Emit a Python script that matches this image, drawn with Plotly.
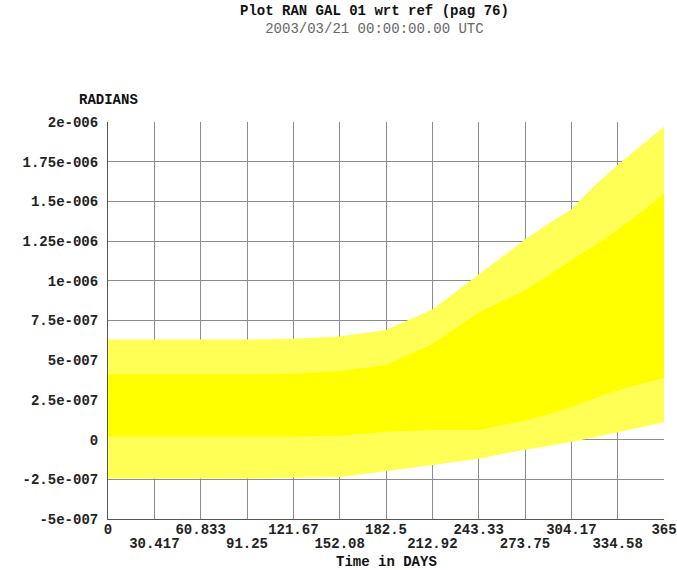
import plotly.graph_objects as go

# Time axis (days) at which the signal envelope is sampled
days = [0, 30.4, 60.8, 91.25, 121.7, 152.1, 182.5, 212.9, 243.3, 258.5,
        273.75, 289, 304.2, 319.4, 334.6, 349.8, 365]

# Outer envelope of the oscillation (spike tips), radians
upper_env = [6.3e-7, 6.3e-7, 6.3e-7, 6.3e-7, 6.35e-7, 6.5e-7, 6.9e-7, 8.2e-7,
             1.04e-6, 1.15e-6, 1.26e-6, 1.36e-6, 1.45e-6, 1.60e-6, 1.73e-6,
             1.85e-6, 1.97e-6]
lower_env = [-2.45e-7, -2.45e-7, -2.45e-7, -2.45e-7, -2.4e-7, -2.35e-7, -2.0e-7,
             -1.6e-7, -1.2e-7, -0.9e-7, -0.65e-7, -0.4e-7, -0.15e-7, 0.15e-7,
             0.48e-7, 0.8e-7, 1.1e-7]

# Dense core of the oscillation, radians
core_hi = [4.1e-7, 4.1e-7, 4.1e-7, 4.1e-7, 4.15e-7, 4.3e-7, 4.7e-7, 6.0e-7,
           8.0e-7, 8.7e-7, 9.4e-7, 1.03e-6, 1.13e-6, 1.22e-6, 1.32e-6,
           1.43e-6, 1.55e-6]
core_lo = [0.2e-7, 0.2e-7, 0.2e-7, 0.2e-7, 0.2e-7, 0.25e-7, 0.5e-7, 0.6e-7,
           0.6e-7, 0.9e-7, 1.2e-7, 1.6e-7, 2.05e-7, 2.6e-7, 3.1e-7, 3.5e-7,
           3.9e-7]

# x ticks: first row and (staggered) second row
x_tickvals_row1 = [0, 60.833, 121.67, 182.5, 243.33, 304.17, 365]
x_ticktext_row1 = ["0", "60.833", "121.67", "182.5", "243.33", "304.17", "365"]
x_tickvals_row2 = [30.417, 91.25, 152.08, 212.92, 273.75, 334.58]
x_ticktext_row2 = ["30.417", "91.25", "152.08", "212.92", "273.75", "334.58"]

y_tickvals = [-5e-7, -2.5e-7, 0, 2.5e-7, 5e-7, 7.5e-7, 1e-6, 1.25e-6,
              1.5e-6, 1.75e-6, 2e-6]
y_ticktext = ["-5e-007", "-2.5e-007", "0", "2.5e-007", "5e-007", "7.5e-007",
              "1e-006", "1.25e-006", "1.5e-006", "1.75e-006", "2e-006"]

MONO = "Liberation Mono, Courier New, monospace"
TICKFONT = dict(family=MONO, size=14, color="#222222", weight="bold")
GRID = "#8c8c8c"

fig = go.Figure()

# outer band
fig.add_trace(go.Scatter(x=days, y=upper_env, mode="lines",
                         line=dict(width=0, color="#ffff00"),
                         hoverinfo="skip", showlegend=False))
fig.add_trace(go.Scatter(x=days, y=lower_env, mode="lines",
                         line=dict(width=0, color="#ffff00"),
                         fill="tonexty", fillcolor="#ffff55",
                         hoverinfo="skip", showlegend=False))
# dense core
fig.add_trace(go.Scatter(x=days, y=core_hi, mode="lines",
                         line=dict(width=0, color="#ffff00"),
                         hoverinfo="skip", showlegend=False))
fig.add_trace(go.Scatter(x=days, y=core_lo, mode="lines",
                         line=dict(width=0, color="#ffff00"),
                         fill="tonexty", fillcolor="#ffff00",
                         hoverinfo="skip", showlegend=False))
# empty trace so the second-row axis is drawn
fig.add_trace(go.Scatter(x=[None], y=[None], xaxis="x2", yaxis="y",
                         hoverinfo="skip", showlegend=False))

title_text = ("<b>Plot RAN GAL 01 wrt ref (pag 76)</b><br>"
              "<span style='color:#666666'>2003/03/21 00:00:00.00 UTC</span>")

fig.update_layout(
    width=677, height=570,
    margin=dict(l=108, r=13, t=122, b=51),
    paper_bgcolor="white", plot_bgcolor="white",
    font=dict(family=MONO, size=14, color="#222222"),
    xaxis=dict(
        range=[0, 365], tickvals=x_tickvals_row1, ticktext=x_ticktext_row1,
        tickangle=0, automargin=False,
        showgrid=True, gridcolor=GRID, gridwidth=1,
        showline=True, linecolor="#555555", linewidth=1,
        zeroline=False, ticks="", ticklabelstandoff=-3,
        tickfont=TICKFONT,
    ),
    xaxis2=dict(
        range=[0, 365], overlaying="x", anchor="y", side="bottom",
        tickvals=x_tickvals_row2, ticktext=x_ticktext_row2,
        tickangle=0, automargin=False,
        showgrid=True, gridcolor=GRID, gridwidth=1,
        showline=False, zeroline=False, ticks="", ticklabelstandoff=14,
        tickfont=TICKFONT,
    ),
    yaxis=dict(
        range=[-5e-7, 2e-6], tickvals=y_tickvals, ticktext=y_ticktext,
        automargin=False,
        showgrid=True, gridcolor=GRID, gridwidth=1,
        showline=True, linecolor="#555555", linewidth=1,
        zeroline=False, ticks="", ticklabelstandoff=6,
        tickfont=TICKFONT,
    ),
    annotations=[
        dict(text=title_text, xref="paper", yref="paper",
             x=(374 - 108) / 556, y=1, yshift=102.5,
             xanchor="center", yanchor="middle", showarrow=False,
             align="center",
             font=dict(family=MONO, size=14, color="#111111")),
        dict(text="RADIANS", xref="paper", yref="paper", x=0, y=1,
             yshift=22, xanchor="center", yanchor="middle", showarrow=False,
             font=dict(family=MONO, size=14, color="#111111",
                       weight="bold")),
        dict(text="Time in DAYS", xref="paper", yref="paper", x=0.5, y=0,
             yshift=-43, xanchor="center", yanchor="middle",
             showarrow=False,
             font=dict(family=MONO, size=14, color="#111111",
                       weight="bold")),
    ],
)

fig.write_html("out.html")
